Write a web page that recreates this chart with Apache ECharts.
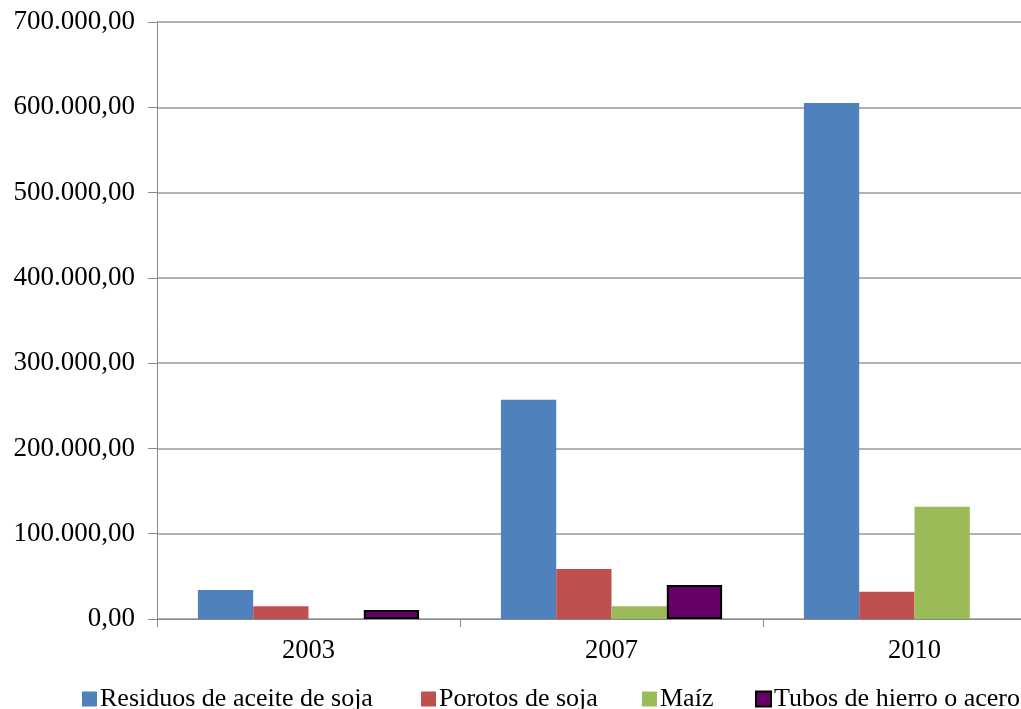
<!DOCTYPE html>
<html><head><meta charset="utf-8">
<script src="https://cdn.jsdelivr.net/npm/echarts@6/dist/echarts.min.js"></script>
<style>html,body{margin:0;padding:0;background:#fff;overflow:hidden;width:1021px;height:709px}#c{width:1070px;height:709px}</style>
</head><body><div id="c"></div>
<script>
const categories = ['2003', '2007', '2010'];
const residuos = [34000, 257000, 605000];
const porotos = [15000, 58500, 32000];
const maiz = [null, 15000, 131500];
const tubos = [10500, 40000, null];
const seriesNames = ['Residuos de aceite de soja', 'Porotos de soja', 'Maíz', 'Tubos de hierro o acero'];

function fmt(v) {
  const s = Math.round(v).toString().replace(/\B(?=(\d{3})+(?!\d))/g, '.');
  return s + ',00';
}
const font = 'Liberation Serif';
const legendLefts = [77, 416, 637, 750];
const legends = seriesNames.map((n, i) => ({
  top: 681, left: legendLefts[i],
  itemWidth: 15, itemHeight: 15, itemGap: 0,
  icon: 'rect',
  textStyle: { fontFamily: font, fontSize: 26, lineHeight: 26, color: '#000', padding: [0, 0, 0, -2] },
  data: [n]
}));
const chart = echarts.init(document.getElementById('c'));
chart.setOption({
  animation: false,
  backgroundColor: '#fff',
  textStyle: { fontFamily: font },
  grid: { left: 157, right: 4, top: 22, bottom: 90, containLabel: false },
  legend: legends,
  xAxis: {
    type: 'category', data: categories,
    axisLine: { lineStyle: { color: '#888', width: 1 } },
    axisTick: { show: true, length: 8, lineStyle: { color: '#888' } },
    axisLabel: { fontFamily: font, fontSize: 26.5, color: '#000', margin: 19 }
  },
  yAxis: {
    type: 'value', min: 0, max: 700000, interval: 100000,
    axisLine: { show: true, lineStyle: { color: '#888', width: 1 } },
    axisTick: { show: true, length: 9, lineStyle: { color: '#888' } },
    splitLine: { lineStyle: { color: '#999', width: 1.5 } },
    axisLabel: { fontFamily: font, fontSize: 27, color: '#000', margin: 22, formatter: fmt }
  },
  series: [
    { name: seriesNames[0], type: 'bar', data: residuos, barGap: '0%', barCategoryGap: '27%', itemStyle: { color: '#4F81BD' } },
    { name: seriesNames[1], type: 'bar', data: porotos, itemStyle: { color: '#C0504D' } },
    { name: seriesNames[2], type: 'bar', data: maiz, itemStyle: { color: '#9BBB59' } },
    { name: seriesNames[3], type: 'bar', data: tubos, itemStyle: { color: '#660066', borderColor: '#000', borderWidth: 2 } }
  ]
});
</script></body></html>
